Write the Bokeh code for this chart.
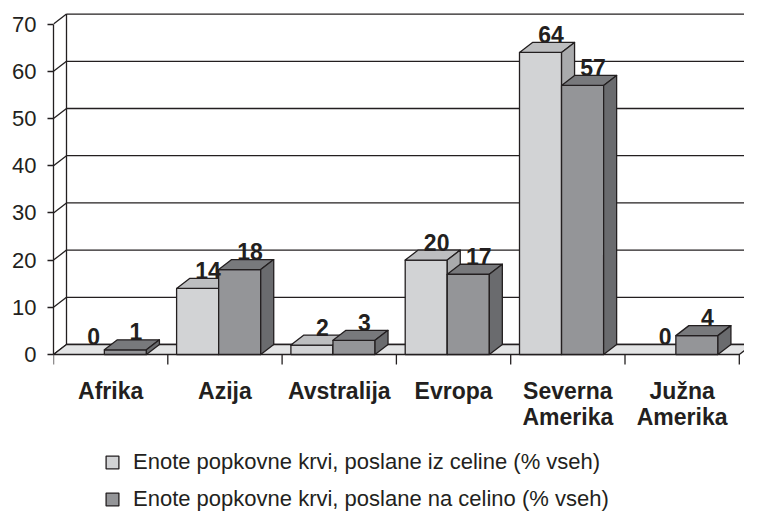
from bokeh.plotting import figure
from bokeh.models import Range1d, FixedTicker, Legend, LegendItem
from bokeh.core.properties import value
from bokeh.embed import file_html
from bokeh.resources import INLINE

# ---------------- data ----------------
categories = ["Afrika", "Azija", "Avstralija", "Evropa", "Severna Amerika", "Južna Amerika"]
category_labels = ["Afrika", "Azija", "Avstralija", "Evropa", "Severna\nAmerika", "Južna\nAmerika"]
sent_from = [0, 14, 2, 20, 64, 0]
sent_to = [1, 18, 3, 17, 57, 4]
series_names = [
    "Enote popkovne krvi, poslane iz celine (% vseh)",
    "Enote popkovne krvi, poslane na celino (% vseh)",
]
y_ticks = [0, 10, 20, 30, 40, 50, 60, 70]

# ---------------- style ----------------
FONT = "Liberation Sans"
INK = "#231f20"
LW = 1.3
W, H = 744, 513
LEFT = 53
PX_X = 114.3                   # pixels per category
PX_Y = 4.72                    # pixels per value unit
Y0_PX = 354                    # figure pixel row of value 0
X_END = (W - LEFT) / PX_X
Y_END = Y0_PX / PX_Y
Y_START = -(H - Y0_PX) / PX_Y
DX, DY = 13 / PX_X, 10 / PX_Y  # 3D depth offset
GAP, BAR_W = 0.077, 0.368      # bar placement inside a category
LABEL_PAD = 8 / PX_Y
TICK_DOWN = 10 / PX_Y
CAT_LINE1 = -36 / PX_Y
CAT_LINE2 = -62 / PX_Y
FLOOR = "#e3e4e5"
COLORS = [
    dict(front="#d2d3d5", top="#bdbec0", side="#a9aaac"),
    dict(front="#949598", top="#78797c", side="#6a6b6e"),
]

n = len(categories)

p = figure(width=W, height=H, x_range=Range1d(0, X_END), y_range=Range1d(Y_START, Y_END),
           output_backend="svg", toolbar_location=None,
           min_border_left=LEFT, min_border_right=0, min_border_top=0, min_border_bottom=0)
p.outline_line_color = None
p.xgrid.visible = False
p.ygrid.visible = False
p.xaxis.visible = False

top = y_ticks[-1]
# back wall gridlines
p.segment(x0=[DX] * len(y_ticks), y0=[t + DY for t in y_ticks],
          x1=[X_END] * len(y_ticks), y1=[t + DY for t in y_ticks],
          line_color=INK, line_width=LW)
# left wall diagonals
p.segment(x0=[0] * len(y_ticks), y0=y_ticks,
          x1=[DX] * len(y_ticks), y1=[t + DY for t in y_ticks],
          line_color=INK, line_width=LW)
# back wall vertical edge
p.segment(x0=[DX], y0=[DY], x1=[DX], y1=[top + DY], line_color=INK, line_width=LW)

# floor
p.patch(x=[0, n, n + DX, DX], y=[0, 0, DY, DY], fill_color=FLOOR, line_color=INK, line_width=LW)

# category separator ticks below the floor
p.segment(x0=list(range(n + 1)), y0=[0] * (n + 1), x1=list(range(n + 1)), y1=[-TICK_DOWN] * (n + 1),
          line_color=INK, line_width=LW)

front_renderers = []
for s, vals in enumerate([sent_from, sent_to]):
    col = COLORS[s]
    lefts = [i + GAP + s * BAR_W for i in range(n)]
    rights = [l + BAR_W for l in lefts]
    keep = [k for k in range(n) if vals[k] > 0]
    fr = p.quad(left=[lefts[k] for k in keep], right=[rights[k] for k in keep],
                bottom=[0] * len(keep), top=[vals[k] for k in keep],
                fill_color=col["front"], line_color=INK, line_width=LW)
    front_renderers.append(fr)
    p.patches(xs=[[lefts[k], rights[k], rights[k] + DX, lefts[k] + DX] for k in keep],
              ys=[[vals[k], vals[k], vals[k] + DY, vals[k] + DY] for k in keep],
              fill_color=col["top"], line_color=INK, line_width=LW, line_join="round")
    p.patches(xs=[[rights[k], rights[k] + DX, rights[k] + DX, rights[k]] for k in keep],
              ys=[[0, DY, vals[k] + DY, vals[k]] for k in keep],
              fill_color=col["side"], line_color=INK, line_width=LW, line_join="round")

# value labels
for s, vals in enumerate([sent_from, sent_to]):
    xs = [i + GAP + s * BAR_W + BAR_W / 2 + DX * 0.8 for i in range(n)]
    ys = [v + DY + LABEL_PAD for v in vals]
    p.text(x=xs, y=ys, text=[str(v) for v in vals], text_align="center", text_baseline="alphabetic",
           text_font=value(FONT), text_font_style="bold", text_font_size="23px", text_color=INK)

# category labels (one or two lines)
centers = [i + 0.5 for i in range(n)]
lines = [lab.split("\n") for lab in category_labels]
for li, ypos in enumerate([CAT_LINE1, CAT_LINE2]):
    xs = [c for c, ls in zip(centers, lines) if len(ls) > li]
    tx = [ls[li] for ls in lines if len(ls) > li]
    p.text(x=xs, y=[ypos] * len(xs), text=tx, text_align="center", text_baseline="alphabetic",
           text_font=value(FONT), text_font_style="bold", text_font_size="23px", text_color=INK)

# y axis
ya = p.yaxis[0]
ya.ticker = FixedTicker(ticks=y_ticks)
ya.bounds = (0, top)
ya.axis_line_color = INK
ya.axis_line_width = LW
ya.major_tick_line_color = INK
ya.major_tick_line_width = LW
ya.major_tick_out = 6
ya.major_tick_in = 0
ya.minor_tick_line_color = None
ya.major_label_standoff = 11
ya.major_label_text_font = FONT
ya.major_label_text_font_size = "22px"
ya.major_label_text_color = INK

legend = Legend(items=[LegendItem(label=series_names[i], renderers=[front_renderers[i]]) for i in range(2)],
                location=(51, 1), orientation="vertical",
                border_line_color=None, background_fill_alpha=0,
                label_text_font=FONT, label_text_font_size="22px", label_text_color=INK,
                glyph_width=16, glyph_height=16, label_height=16, label_standoff=13,
                spacing=11, padding=0, margin=0)
p.add_layout(legend)

open("out.html", "w").write(file_html(p, INLINE))
